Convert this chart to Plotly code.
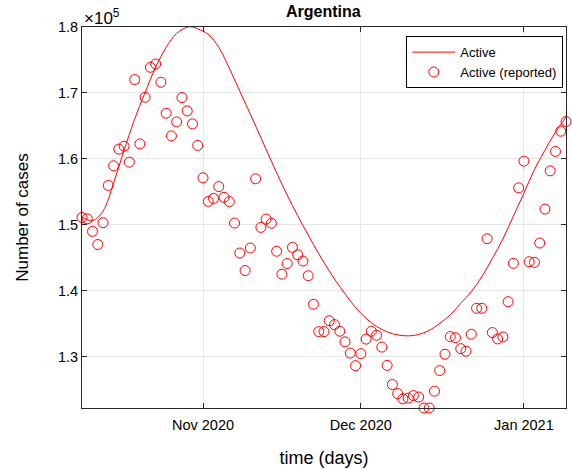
import pandas as pd
import plotly.graph_objects as go

start_date = "2020-10-09"

# reported active cases, one per day from start_date
reported = [
    151100, 150900, 149000, 147000, 150300, 155970, 158940, 161470, 161920, 159500,
    172030, 162270, 169340, 173890, 174390, 171620, 166920, 163480, 165600, 169300,
    167270, 165300, 162030, 157120, 153540, 154000, 155790, 154160, 153510, 150260,
    145710, 143060, 146470, 156970, 149600, 150860, 150230, 145980, 142500, 144120,
    146570, 145440, 144500, 142270, 137940, 133790, 133790, 135440, 134850, 133850,
    132230, 130530, 128620, 130440, 132650, 133850, 133240, 131440, 128670, 125760,
    124380, 123590, 123700, 124080, 123860, 122200, 122200, 124760, 127880, 130360,
    133030, 132860, 131200, 130820, 133390, 137330, 137330, 147880, 133640, 132680,
    132980, 138330, 144150, 155600, 159650, 144390, 144300, 147230, 152380, 158180,
    161120, 164190, 165660,
]

# model curve, sampled at day offsets from start_date
curve_days = [0, 2, 4, 6, 8, 10, 12, 14, 16, 18, 20, 21, 22, 24, 26, 28, 30, 32, 34,
              36, 38, 40, 42, 44, 46, 48, 50, 52, 54, 56, 58, 60, 62, 64, 66, 68,
              70, 72, 74, 76, 78, 80, 82, 84, 86, 88, 90, 92]
curve_vals = [151170, 150630, 152070, 156320, 161320, 166010, 170100, 173890, 176920,
              179040, 179970, 180000, 179720, 178890, 176920, 173740, 170250, 166770,
              163210, 159650, 156160, 152910, 149880, 147000, 144270, 141770, 139500,
              137450, 135790, 134580, 133740, 133290, 133140, 133360, 133970, 135030,
              136320, 138090, 139850, 142120, 144910, 147830, 151320, 154800, 158360,
              161320, 164040, 166310]

y_tick_vals = [130000, 140000, 150000, 160000, 170000, 180000]
y_tick_text = ["1.3", "1.4", "1.5", "1.6", "1.7", "1.8"]
x_tick_vals = ["2020-11-01", "2020-12-01", "2021-01-01"]
x_tick_text = ["Nov 2020", "Dec 2020", "Jan 2021"]
y_range = [122200, 180000]

dates = pd.date_range(start_date, periods=len(reported), freq="D")
curve_dates = [pd.Timestamp(start_date) + pd.Timedelta(days=d) for d in curve_days]

FONT = "Liberation Sans, Arial, Helvetica, sans-serif"
AX = "#262626"

fig = go.Figure()
fig.add_trace(go.Scatter(
    x=curve_dates, y=curve_vals, mode="lines", name="Active",
    line=dict(color="#ff0000", width=1, shape="spline", smoothing=1.0),
))
fig.add_trace(go.Scatter(
    x=dates, y=reported, mode="markers", name="Active (reported)",
    marker=dict(symbol="circle-open", size=10, color="#ff0000", line=dict(width=1, color="#ff0000")),
    cliponaxis=False,
))

fig.update_layout(
    width=572, height=469,
    margin=dict(l=82, r=6, t=27, b=61),
    paper_bgcolor="white", plot_bgcolor="white",
    font=dict(family=FONT, size=14, color=AX),
    title=dict(text="<b>Argentina</b>", x=0.5654, xanchor="center",
               y=1 - 11 / 469, yanchor="middle", yref="container",
               font=dict(size=16, color="black")),
    showlegend=True,
    legend=dict(x=0.9944, xanchor="right", y=0.976, yanchor="top",
                bgcolor="white", bordercolor="black", borderwidth=1,
                itemwidth=43,
                font=dict(size=13, color="black"), tracegroupgap=0),
)

fig.update_xaxes(
    range=[dates[0], dates[-1]],
    tickvals=x_tick_vals, ticktext=x_tick_text,
    ticks="inside", ticklen=5, tickcolor=AX, tickwidth=1,
    showline=True, linecolor=AX, linewidth=1, mirror="ticks",
    showgrid=True, gridcolor="#e6e6e6", gridwidth=1, zeroline=False,
    tickfont=dict(size=14.5, color="black"), ticklabelstandoff=4,
    title=dict(text="time (days)", font=dict(size=18, color="black"), standoff=18),
)
fig.update_yaxes(
    range=y_range,
    tickvals=y_tick_vals, ticktext=y_tick_text,
    ticks="inside", ticklen=5, tickcolor=AX, tickwidth=1,
    showline=True, linecolor=AX, linewidth=1, mirror="ticks",
    showgrid=True, gridcolor="#e6e6e6", gridwidth=1, zeroline=False,
    tickfont=dict(size=14.5, color="black"),
    title=dict(text="Number of cases", font=dict(size=17, color="black"), standoff=24),
)

fig.add_annotation(
    text="×10<sup>5</sup>", xref="paper", yref="paper", x=0, y=1,
    xanchor="left", yanchor="bottom", yshift=-3, showarrow=False,
    font=dict(size=17, color="black", family=FONT),
)

fig.write_html("out.html")
